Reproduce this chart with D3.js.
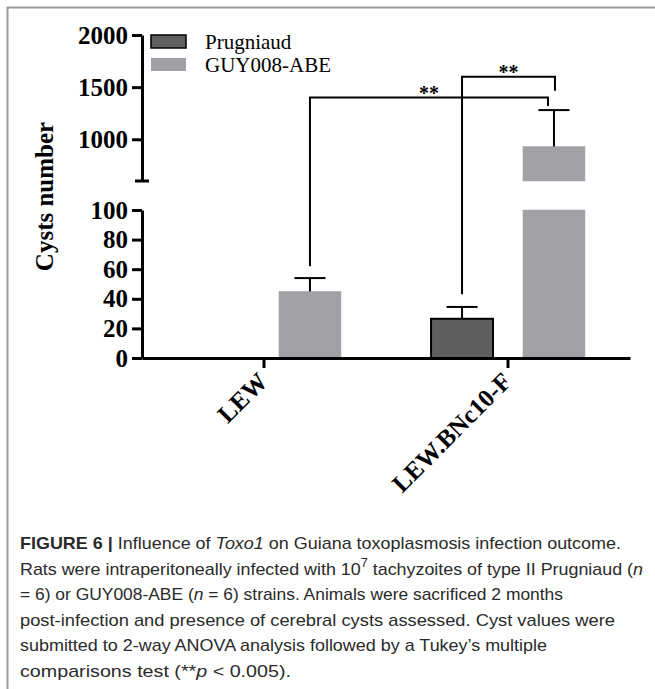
<!DOCTYPE html>
<html>
<head>
<meta charset="utf-8">
<script src="https://cdn.jsdelivr.net/npm/d3@7"></script>
<style>
  body { margin: 0; background: #fff; }
  svg { display: block; }
</style>
</head>
<body>
<div id="chart"></div>
<script>
'use strict';

// data
const groups = ['LEW', 'LEW.BNc10-F'];
const series = ['Prugniaud', 'GUY008-ABE'];
const prugniaudMean = [0, 26.5];
const prugniaudSem = [0, 8];
const guyMean = [45, 930];
const guySem = [9, 350];
const lowerTicks = [0, 20, 40, 60, 80, 100];
const upperTicks = [1000, 1500, 2000];
const lowerDomain = [0, 100];
const upperDomain = [600, 2000];
// significance brackets: [group, series] pairs, bracket height and foot values
const comparisons = [
  { from: [0, 'GUY008-ABE'], to: [1, 'GUY008-ABE'], top: 1400, footFrom: 62, footTo: 1320, shift: -6, label: '**' },
  { from: [1, 'Prugniaud'], to: [1, 'GUY008-ABE'], top: 1600, footFrom: 43, footTo: 1465, shift: 1, label: '**' },
];
const captionLines = [
  [['FIGURE 6 | ', 'b'], ['Influence of ', ''], ['Toxo1', 'i'], [' on Guiana toxoplasmosis infection outcome.', '']],
  [['Rats were intraperitoneally infected with 10', ''], ['7', 'sup'], [' tachyzoites of type II Prugniaud (', 'after'], ['n', 'i']],
  [['= 6) or GUY008-ABE (', ''], ['n', 'i'], [' = 6) strains. Animals were sacrificed 2 months', '']],
  [['post-infection and presence of cerebral cysts assessed. Cyst values were', '']],
  [['submitted to 2-way ANOVA analysis followed by a Tukey\u2019s multiple', '']],
  [['comparisons test (**', ''], ['p', 'i'], [' < 0.005).', '']],
];
const captionWidths = [601, 623, 543, 595, 527, 271];

const width = 655;
const height = 689;
const serif = '"Liberation Serif", "Times New Roman", serif';
const colors = { 'Prugniaud': '#5f5f5f', 'GUY008-ABE': '#a1a0a5' };

const rows = groups.map((g, i) => ({
  group: g,
  values: [
    { series: 'Prugniaud', mean: prugniaudMean[i], sem: prugniaudSem[i] },
    { series: 'GUY008-ABE', mean: guyMean[i], sem: guySem[i] },
  ],
}));

const svg = d3.select('#chart')
  .append('svg')
  .attr('width', width)
  .attr('height', height);

// frame
svg.append('path')
  .attr('d', 'M7.5,689V7.5H655')
  .attr('fill', 'none')
  .attr('stroke', '#9a9a9a')
  .attr('stroke-width', 2);

const yLow = d3.scaleLinear(lowerDomain, [358, 210]);
const yHigh = d3.scaleLinear(upperDomain, [181, 35]);
const yAny = (v) => (v <= lowerDomain[1] ? yLow(v) : yHigh(v));

const x0 = d3.scaleBand(groups, [142, 630]);
const x1 = d3.scaleBand(series, [0, x0.bandwidth()])
  .paddingInner(0.326)
  .paddingOuter(0.49);
const barCenter = (gi, s) => x0(groups[gi]) + x1(s) + x1.bandwidth() / 2;

// bars
const barG = svg.append('g');
rows.forEach((row) => {
  row.values.forEach((v) => {
    if (v.mean <= 0) return;
    const x = x0(row.group) + x1(v.series);
    const stroke = v.series === 'Prugniaud' ? '#000' : colors[v.series];
    const sw = v.series === 'Prugniaud' ? 2 : 0.5;
    const lowTop = Math.min(v.mean, lowerDomain[1]);
    barG.append('rect')
      .attr('x', x)
      .attr('y', yLow(lowTop))
      .attr('width', x1.bandwidth())
      .attr('height', yLow(0) - yLow(lowTop))
      .attr('fill', colors[v.series])
      .attr('stroke', stroke)
      .attr('stroke-width', sw);
    if (v.mean > upperDomain[0]) {
      barG.append('rect')
        .attr('x', x)
        .attr('y', yHigh(v.mean))
        .attr('width', x1.bandwidth())
        .attr('height', yHigh(upperDomain[0]) - yHigh(v.mean))
        .attr('fill', colors[v.series])
        .attr('stroke', stroke)
        .attr('stroke-width', sw);
    }
    // error bar
    const cx = x + x1.bandwidth() / 2;
    const top = yAny(v.mean + v.sem);
    barG.append('line')
      .attr('x1', cx).attr('x2', cx)
      .attr('y1', yAny(v.mean)).attr('y2', top)
      .attr('stroke', '#000').attr('stroke-width', 2);
    barG.append('line')
      .attr('x1', cx - 15.5).attr('x2', cx + 15.5)
      .attr('y1', top).attr('y2', top)
      .attr('stroke', '#000').attr('stroke-width', 2);
  });
});

// axes
const styleAxis = (g) => {
  g.selectAll('path, line')
    .attr('stroke', '#000')
    .attr('stroke-width', 3);
  g.selectAll('text')
    .attr('fill', '#000')
    .style('font-family', serif)
    .style('font-weight', 'bold')
    .style('font-size', '25px');
};

svg.append('g')
  .attr('transform', 'translate(142,0)')
  .call(d3.axisLeft(yLow).tickValues(lowerTicks).tickFormat(d3.format('d'))
    .tickSize(10).tickSizeOuter(0).tickPadding(4))
  .call(styleAxis);

svg.append('g')
  .attr('transform', 'translate(142,0)')
  .call(d3.axisLeft(yHigh).tickValues(upperTicks).tickFormat(d3.format('d'))
    .tickSize(10).tickSizeOuter(0).tickPadding(4))
  .call(styleAxis);

// cap at the break
svg.append('line')
  .attr('x1', 135).attr('x2', 149)
  .attr('y1', yHigh(upperDomain[0])).attr('y2', yHigh(upperDomain[0]))
  .attr('stroke', '#000').attr('stroke-width', 3);

const xAxis = svg.append('g')
  .attr('transform', `translate(0,${yLow(0)})`)
  .call(d3.axisBottom(x0).tickSize(10).tickSizeOuter(0))
  .call(styleAxis);

xAxis.selectAll('.tick text')
  .attr('text-anchor', 'end')
  .attr('y', 0)
  .attr('dy', 0)
  .attr('transform', 'translate(5,25) rotate(-45)');

// y title
svg.append('text')
  .attr('transform', `translate(53,${(yLow(0) + yHigh(2000)) / 2}) rotate(-90)`)
  .attr('text-anchor', 'middle')
  .style('font-family', serif)
  .style('font-weight', 'bold')
  .style('font-size', '25px')
  .text('Cysts number');

// legend
const legend = svg.append('g')
  .attr('transform', 'translate(151,35)');
series.forEach((s, i) => {
  legend.append('rect')
    .attr('x', 0)
    .attr('y', i * 23)
    .attr('width', 35)
    .attr('height', 13)
    .attr('fill', colors[s])
    .attr('stroke', s === 'Prugniaud' ? '#000' : 'none')
    .attr('stroke-width', 1.5);
  legend.append('text')
    .attr('x', 54)
    .attr('y', i * 23 + 14)
    .style('font-family', serif)
    .style('font-size', '21px')
    .text(s);
});

// significance brackets
comparisons.forEach((c) => {
  const xa = barCenter(c.from[0], c.from[1]);
  const xb = barCenter(c.to[0], c.to[1]) + c.shift;
  const yt = yHigh(c.top);
  svg.append('path')
    .attr('d', `M${xa},${yAny(c.footFrom)}V${yt}H${xb}V${yAny(c.footTo)}`)
    .attr('fill', 'none')
    .attr('stroke', '#000')
    .attr('stroke-width', 2);
  svg.append('text')
    .attr('x', (xa + xb) / 2)
    .attr('y', yt + 2)
    .attr('text-anchor', 'middle')
    .style('font-family', serif)
    .style('font-weight', 'bold')
    .style('font-size', '20px')
    .text(c.label);
});

// caption
const caption = svg.append('g')
  .style('font-family', '"Liberation Sans", Arial, sans-serif')
  .style('font-size', '17px')
  .attr('fill', '#2a2a2a');
captionLines.forEach((line, i) => {
  const t = caption.append('text')
    .attr('x', 20)
    .attr('y', 549 + i * 25.5)
    .attr('textLength', captionWidths[i])
    .attr('lengthAdjust', 'spacingAndGlyphs');
  line.forEach(([txt, st]) => {
    const sp = t.append('tspan').text(txt);
    if (st === 'b') sp.style('font-weight', 'bold');
    if (st === 'i') sp.style('font-style', 'italic');
    if (st === 'sup') sp.style('font-size', '12px').attr('dy', -8);
    if (st === 'after') sp.attr('dy', 8);
  });
});
</script>
</body>
</html>
